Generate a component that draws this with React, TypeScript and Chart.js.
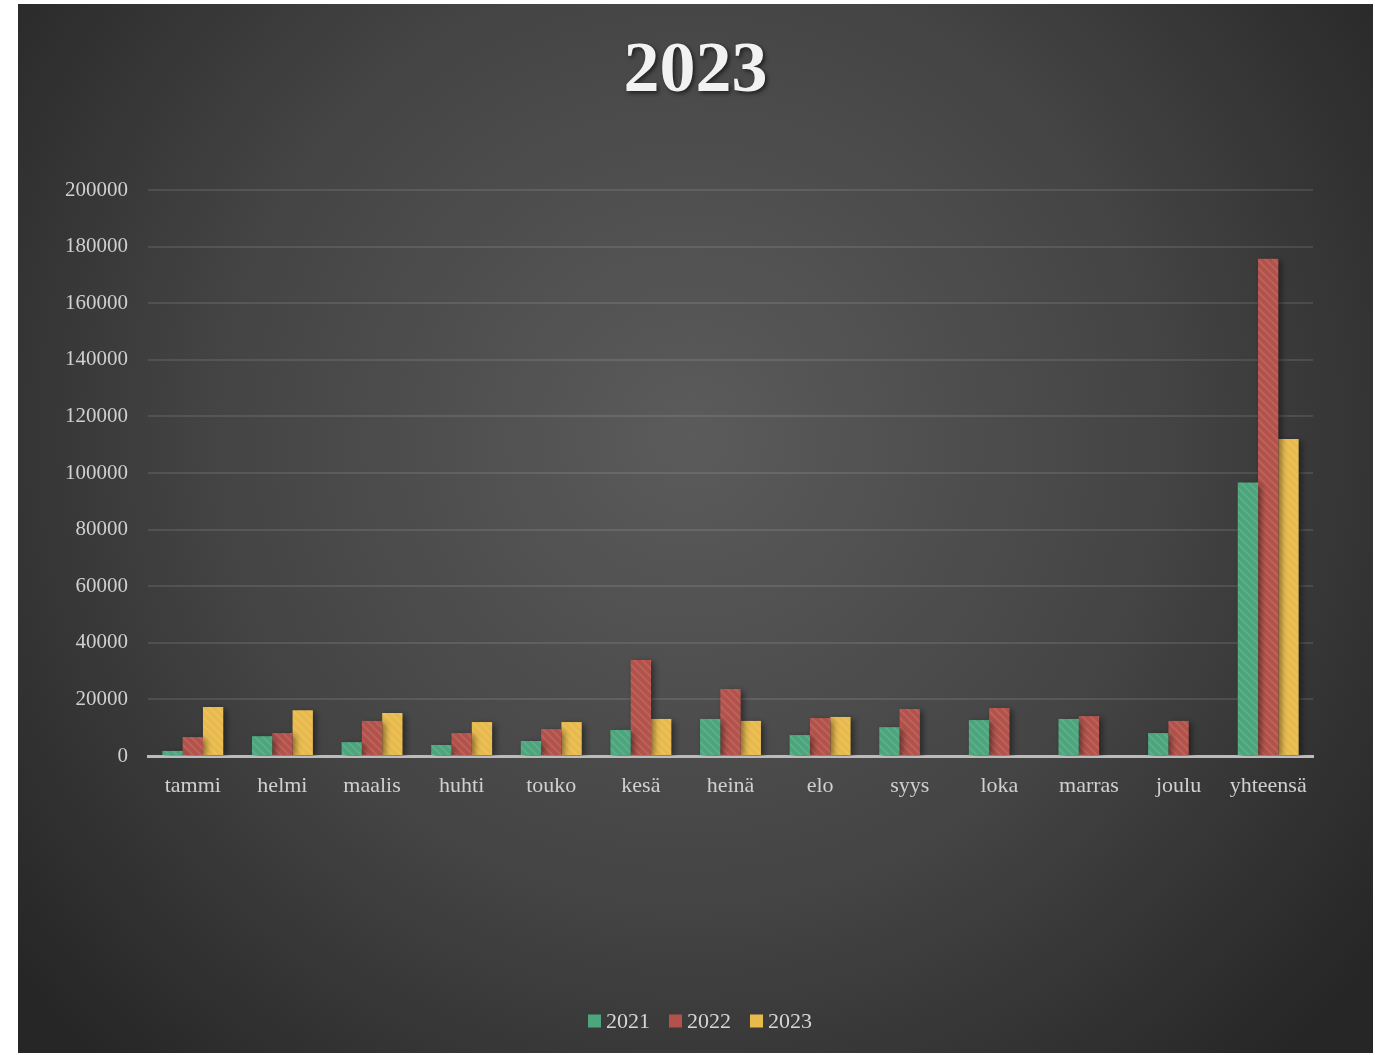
import React, { useEffect, useRef } from "react";
import { Chart, registerables } from "chart.js";

Chart.register(...registerables);

const TITLE = "2023";
const categories = ["tammi", "helmi", "maalis", "huhti", "touko", "kesä", "heinä", "elo", "syys", "loka", "marras", "joulu", "yhteensä"];
const seriesNames = ["2021", "2022", "2023"];
const values2021 = [1800, 7000, 4900, 3900, 5300, 9200, 13100, 7400, 10200, 12700, 13100, 8100, 96600];
const values2022 = [6700, 8100, 12400, 8100, 9500, 33900, 23700, 13400, 16600, 17000, 14100, 12400, 175700];
const values2023 = [17300, 16200, 15200, 12000, 12000, 13100, 12400, 13800, null, null, null, null, 112000];
const yMin = 0;
const yMax = 200000;
const yStep = 20000;

const baseColors = ["#4ca57d", "#b3524a", "#e8ba4c"];
const FONT = "'Liberation Serif', 'Times New Roman', serif";

function makePattern(color: string): CanvasPattern | string {
  const c = document.createElement("canvas");
  c.width = 8;
  c.height = 8;
  const g = c.getContext("2d");
  if (!g) return color;
  g.fillStyle = color;
  g.fillRect(0, 0, 8, 8);
  g.strokeStyle = "rgba(255,255,255,0.10)";
  g.lineWidth = 2;
  g.beginPath();
  g.moveTo(-2, -2);
  g.lineTo(10, 10);
  g.moveTo(-6, 2);
  g.lineTo(2, 10);
  g.moveTo(6, -2);
  g.lineTo(10, 2);
  g.stroke();
  const p = g.createPattern(c, "repeat");
  return p || color;
}

const bgPlugin = {
  id: "bgPlugin",
  beforeDraw(chart: any) {
    const { ctx, width, height } = chart;
    ctx.save();
    const grad = ctx.createRadialGradient(672, 430, 0, 672, 430, 860);
    grad.addColorStop(0, "#5b5b5b");
    grad.addColorStop(0.55, "#444444");
    grad.addColorStop(1, "#262626");
    ctx.fillStyle = grad;
    ctx.fillRect(0, 0, width, height);
    ctx.restore();
  },
  beforeDatasetsDraw(chart: any) {
    const ctx = chart.ctx;
    ctx.save();
    ctx.shadowColor = "rgba(0,0,0,0.45)";
    ctx.shadowBlur = 6;
    ctx.shadowOffsetX = 3;
    ctx.shadowOffsetY = 2;
  },
  afterDatasetsDraw(chart: any) {
    chart.ctx.restore();
  },
  afterDraw(chart: any) {
    const { ctx, width } = chart;
    // title
    ctx.save();
    ctx.font = `bold 72px ${FONT}`;
    ctx.fillStyle = "#f2f2f2";
    ctx.textAlign = "center";
    ctx.textBaseline = "middle";
    ctx.shadowColor = "rgba(0,0,0,0.6)";
    ctx.shadowBlur = 4;
    ctx.shadowOffsetX = 2;
    ctx.shadowOffsetY = 2;
    ctx.fillText(TITLE, width / 2, 68);
    ctx.restore();
    // legend
    ctx.save();
    ctx.font = `22px ${FONT}`;
    ctx.textBaseline = "middle";
    ctx.textAlign = "left";
    const box = 13;
    const gapBox = 5;
    const gapItem = 19;
    const widths = seriesNames.map((s) => ctx.measureText(s).width);
    const total = widths.reduce((a, w) => a + box + gapBox + w, 0) + gapItem * (seriesNames.length - 1);
    let x = 682 - total / 2;
    const cy = 1017;
    seriesNames.forEach((s, i) => {
      ctx.fillStyle = baseColors[i];
      ctx.fillRect(x, cy - box / 2, box, box);
      x += box + gapBox;
      ctx.fillStyle = "#d6d6d6";
      ctx.fillText(s, x, cy + 1);
      x += widths[i] + gapItem;
    });
    ctx.restore();
  },
};

export default function App() {
  const ref = useRef<HTMLCanvasElement | null>(null);

  useEffect(() => {
    if (!ref.current) return;
    const allValues = [values2021, values2022, values2023];
    const chart = new Chart(ref.current, {
      type: "bar",
      data: {
        labels: categories,
        datasets: seriesNames.map((name, i) => ({
          label: name,
          data: allValues[i],
          backgroundColor: makePattern(baseColors[i]),
          borderWidth: 0,
          categoryPercentage: 0.68,
          barPercentage: 1.0,
        })),
      },
      options: {
        responsive: false,
        animation: false,
        devicePixelRatio: 1,
        layout: { padding: { top: 186, left: 0, right: 60, bottom: 0 } },
        plugins: {
          title: { display: false },
          tooltip: { enabled: false },
          legend: { display: false },
        },
        scales: {
          x: {
            z: 1,
            grid: { display: false, drawTicks: false },
            border: { display: true, color: "#bcbcbc", width: 3 },
            ticks: { color: "#d0d0d0", font: { family: FONT, size: 22 }, padding: 17, maxRotation: 0 },
            afterFit: (scale: any) => {
              scale.height = 297;
            },
          },
          y: {
            min: yMin,
            max: yMax,
            grid: {
              drawTicks: false,
              lineWidth: 2,
              color: (c: any) => (c.tick && c.tick.value === 0 ? "rgba(0,0,0,0)" : "rgba(255,255,255,0.10)"),
            },
            border: { display: false },
            ticks: {
              stepSize: yStep,
              color: "#d0d0d0",
              font: { family: FONT, size: 21 },
              padding: 20,
              callback: (v: any) => String(v),
            },
            afterFit: (scale: any) => {
              scale.width = 130;
            },
          },
        },
      },
      plugins: [bgPlugin],
    } as any);
    return () => chart.destroy();
  }, []);

  return (
    <div style={{ position: "absolute", left: 18, top: 4, width: 1355, height: 1049 }}>
      <canvas ref={ref} width={1355} height={1049} style={{ display: "block" }} />
    </div>
  );
}
